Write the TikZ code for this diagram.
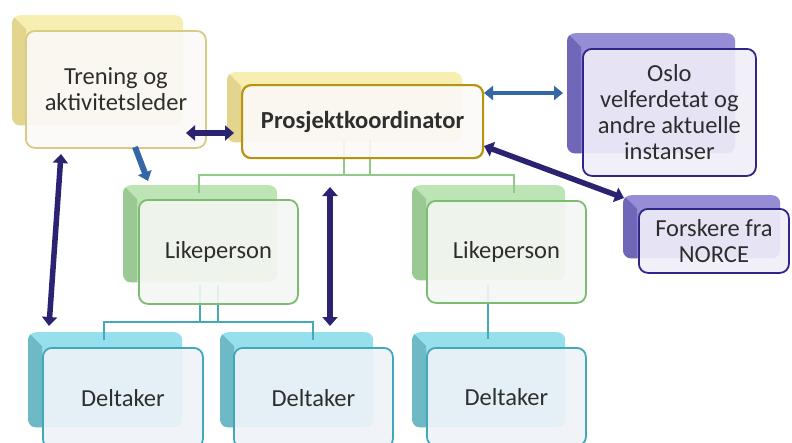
\documentclass[tikz,border=0pt]{standalone}
\usepackage{fontspec}
\setmainfont{Carlito}
\usetikzlibrary{arrows.meta,calc}
\definecolor{yelB}{HTML}{F6EDAA}
\definecolor{yelD}{HTML}{E2D48A}
\definecolor{yelL}{HTML}{D8CB86}
\definecolor{goldL}{HTML}{B8930C}
\definecolor{yelF}{HTML}{FBF9F8}
\definecolor{purB}{HTML}{8C84D2}
\definecolor{purD}{HTML}{6D64B5}
\definecolor{purL}{HTML}{2F2787}
\definecolor{purF}{HTML}{EFEEF8}
\definecolor{grnB}{HTML}{B7E2AF}
\definecolor{grnD}{HTML}{98C891}
\definecolor{grnL}{HTML}{7DBA72}
\definecolor{grnF}{HTML}{F4F6F3}
\definecolor{tealB}{HTML}{8DDCEB}
\definecolor{tealD}{HTML}{6BB6C4}
\definecolor{tealL}{HTML}{3FA8B9}
\definecolor{tealF}{HTML}{EEF3F8}
\definecolor{navyA}{HTML}{2B2272}
\definecolor{blueA}{HTML}{3467A8}
\definecolor{grnLine}{HTML}{8FCB87}
\definecolor{tealLine}{HTML}{45A9BA}
\tikzset{
  backshape/.style={anchor=north west, rounded corners=8pt, inner sep=0pt, fill opacity=0.92},
  frontbox/.style={anchor=north west, rounded corners=9pt, inner sep=0pt, line width=1.8pt,
    fill opacity=0.9, text=black!90, align=center, font=\fontsize{24.5}{26}\selectfont},
  navyarrow/.style={draw=navyA, line width=5.5pt, {Triangle[width=15pt,length=9pt]}-{Triangle[width=15pt,length=9pt]}},
  bluearrow/.style={draw=blueA, line width=4.5pt, {Triangle[width=14pt,length=9pt]}-{Triangle[width=14pt,length=9pt]}},
  bluearrowone/.style={draw=blueA, line width=6pt, -{Triangle[width=14pt,length=9pt]}},
  grnline/.style={draw=grnLine, line width=2pt},
  tealline/.style={draw=tealLine, line width=2.5pt},
}
\newcommand{\backbox}[5]{%
  \node[backshape, fill=#2B, minimum width=#4pt, minimum height=#5pt] (#1) at (#3) {};
  \begin{scope}
    \clip[rounded corners=8pt] (#1.north west) rectangle (#1.south east);
    \fill[#2D, fill opacity=0.92] (#1.north west) -- ++(14,14) -- ($(#1.south west)+(14,0)$) -- (#1.south west) -- cycle;
  \end{scope}}
\begin{document}
\begin{tikzpicture}[x=1pt,y=-1pt]
\useasboundingbox (0,0) rectangle (792,442);
\clip (0,0) rectangle (792,442);
% back boxes
\backbox{trb}{yel}{12,15}{171}{110}
\backbox{pkb}{yel}{227,72}{235}{70}
\backbox{osb}{pur}{567,33}{168}{120}
\backbox{fob}{pur}{623,195}{157}{63}
\backbox{l1b}{grn}{123,185}{154}{97}
\backbox{l2b}{grn}{412,185}{153}{95}
\backbox{d1b}{teal}{28,332}{154}{95}
\backbox{d2b}{teal}{220,332}{153}{95}
\backbox{d3b}{teal}{412,332}{153}{95}
% connector coordinates
\coordinate (g1) at (344,140);
\coordinate (g2) at (370,140);
\coordinate (g1h) at (344,175);
\coordinate (g2h) at (370,175);
\coordinate (gl) at (199,175);
\coordinate (gr) at (514,175);
\coordinate (gld) at (199,193);
\coordinate (grd) at (514,193);
\coordinate (t1) at (200,285);
\coordinate (t2) at (218,285);
\coordinate (t1h) at (200,322);
\coordinate (t2h) at (218,322);
\coordinate (tl) at (104,322);
\coordinate (tr) at (313,322);
\coordinate (tld) at (104,340);
\coordinate (trd) at (313,340);
\coordinate (t3) at (488,285);
\coordinate (t3d) at (488,339);
% tree lines
\draw[grnline] (g1) -- (g1h);
\draw[grnline] (g2) -- (g2h);
\draw[grnline] (gld) -- (gl) -- (gr) -- (grd);
\draw[tealline] (t1) -- (t1h);
\draw[tealline] (t2) -- (t2h);
\draw[tealline] (tld) -- (tl) -- (tr) -- (trd);
\draw[tealline] (t3) -- (t3d);
% front boxes
\node[frontbox, draw=yelL, fill=yelF, minimum width=180pt, minimum height=117pt] (trn) at (25,30) {Trening og\\aktivitetsleder};
\node[frontbox, draw=goldL, line width=2.2pt, fill=yelF, minimum width=241pt, minimum height=73pt, font=\fontsize{24.5}{26}\selectfont\bfseries] (pk) at (241,84) {Prosjektkoordinator};
\node[frontbox, draw=purL, fill=purF, minimum width=173pt, minimum height=127pt] (os) at (582,48) {Oslo\\velferdetat og\\andre aktuelle\\instanser};
\node[frontbox, draw=purL, fill=purF, minimum width=150pt, minimum height=64pt] (fo) at (638,208) {Forskere fra\\NORCE};
\node[frontbox, draw=grnL, fill=grnF, minimum width=159pt, minimum height=104pt] (l1) at (138,199) {Likeperson};
\node[frontbox, draw=grnL, fill=grnF, minimum width=159pt, minimum height=102pt] (l2) at (426,200) {Likeperson};
\node[frontbox, draw=tealL, fill=tealF, minimum width=160pt, minimum height=100pt] (d1) at (42,347) {Deltaker};
\node[frontbox, draw=tealL, fill=tealF, minimum width=159pt, minimum height=100pt] (d2) at (233,347) {Deltaker};
\node[frontbox, draw=tealL, fill=tealF, minimum width=159pt, minimum height=98pt] (d3) at (426,347) {Deltaker};
% arrow end points
\coordinate (a1s) at (186,133);
\coordinate (a1e) at (234,133);
\coordinate (a2s) at (135,147);
\coordinate (a2e) at (148,181);
\coordinate (a3s) at (61,154);
\coordinate (a3e) at (49,326);
\coordinate (a4s) at (330,187);
\coordinate (a4e) at (330,326);
\coordinate (a5s) at (484,93);
\coordinate (a5e) at (563,93);
\coordinate (a6s) at (484,146);
\coordinate (a6e) at (624,198);
% arrows
\draw[navyarrow] (a1s) -- (a1e);
\draw[bluearrowone] (a2s) -- (a2e);
\draw[navyarrow] (a3s) -- (a3e);
\draw[navyarrow] (a4s) -- (a4e);
\draw[bluearrow] (a5s) -- (a5e);
\draw[navyarrow] (a6s) -- (a6e);
\end{tikzpicture}
\end{document}
